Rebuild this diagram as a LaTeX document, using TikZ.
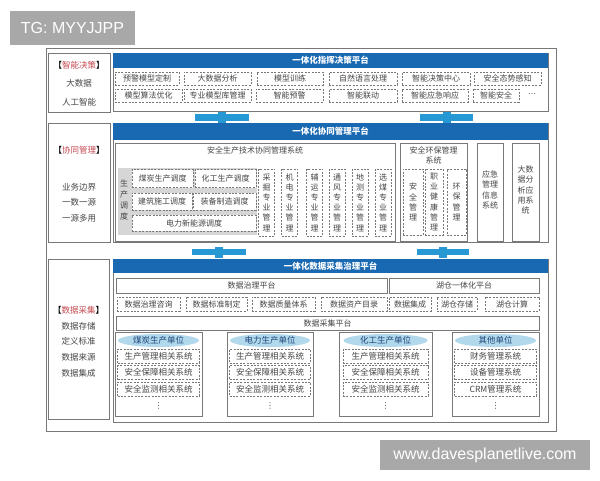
\documentclass[tikz,border=0pt]{standalone}
\usepackage{fontspec}
\setmainfont{Noto Sans CJK SC}
\newfontfamily\wmfont{Liberation Sans}
\newfontfamily\symfont{DejaVu Sans}
\usetikzlibrary{shapes.geometric}
\definecolor{hblue}{RGB}{24,104,178}
\definecolor{lblue}{RGB}{38,152,212}
\definecolor{ellblue}{RGB}{178,216,236}
\definecolor{framegray}{RGB}{120,120,120}
\definecolor{txtgray}{RGB}{70,70,70}
\definecolor{tagred}{RGB}{196,72,80}
\definecolor{areagray}{RGB}{214,214,214}
\definecolor{wmgray}{RGB}{168,168,168}
\definecolor{unittxt}{RGB}{28,70,120}
\newcommand\layertag[1]{{\color{black}【}{\color{tagred}#1}{\color{black}】}}
\begin{document}
\begin{tikzpicture}[x=1pt,y=-1pt,
    every node/.style={inner sep=0pt,text=txtgray,font=\fontsize{8}{10}\selectfont},
    box/.style={draw=framegray,line width=0.6pt},
    dbox/.style={draw=framegray,dashed,dash pattern=on 2pt off 1.4pt,line width=0.5pt},
    head/.style={fill=hblue,text=white,font=\fontsize{8.5}{10}\selectfont\bfseries},
    side/.style={font=\fontsize{8.5}{10}\selectfont},
    vert/.style={align=center,font=\fontsize{8}{10.2}\selectfont},
    unit/.style={ellipse,fill=ellblue,text=unittxt,minimum height=13,font=\fontsize{8.5}{10}\selectfont},
    utxt/.style={font=\fontsize{8.5}{10}\selectfont},
    dots/.style={font=\symfont\fontsize{8}{10}\selectfont},
    bar/.style={draw=lblue,line width=6.5pt},
    nub/.style={fill=lblue,minimum width=8,minimum height=11},
    wmbox/.style={fill=wmgray,text=white,font=\wmfont\fontsize{16}{18}\selectfont}]
  \useasboundingbox (0,0) rectangle (600,480);
  \fill[white] (0,0) rectangle (600,480);
  \draw[framegray,line width=0.6pt] (46,48) rectangle (556,431);

  \draw
    (79,82.5) node[box,minimum width=62,minimum height=59] (l1){}
    (330.5,82) node[box,minimum width=435,minimum height=58] (p1){}
    (330.5,60.5) node[head,minimum width=435,minimum height=15] (h1){一体化指挥决策平台}
    (79,65) node[side] (s11){\layertag{智能决策}}
    (79,83) node[side] (s12){大数据}
    (79,102) node[side] (s13){人工智能};
  \draw
    (147,78.5) node[dbox,minimum width=64,minimum height=13] (a1){预警模型定制}
    (217.5,78.5) node[dbox,minimum width=67,minimum height=13] (a2){大数据分析}
    (290,78.5) node[dbox,minimum width=66,minimum height=13] (a3){模型训练}
    (363,78.5) node[dbox,minimum width=68,minimum height=13] (a4){自然语言处理}
    (436,78.5) node[dbox,minimum width=68,minimum height=13] (a5){智能决策中心}
    (507.5,78.5) node[dbox,minimum width=67,minimum height=13] (a6){安全态势感知}
    (148.5,95.5) node[dbox,minimum width=67,minimum height=13] (b1){模型算法优化}
    (217.5,95.5) node[dbox,minimum width=67,minimum height=13] (b2){专业模型库管理}
    (289.5,95.5) node[dbox,minimum width=67,minimum height=13] (b3){智能预警}
    (363,95.5) node[dbox,minimum width=68,minimum height=13] (b4){智能联动}
    (435,95.5) node[dbox,minimum width=66,minimum height=13] (b5){智能应急响应}
    (496,95.5) node[dbox,minimum width=46,minimum height=13] (b6){智能安全}
    (532,95.5) node[dots] (b7){⋯};

  \draw
    (79,182.5) node[box,minimum width=62,minimum height=119] (l2){}
    (330.5,182.5) node[box,minimum width=435,minimum height=119] (p2){}
    (330.5,131.5) node[head,minimum width=435,minimum height=17] (h2){一体化协同管理平台}
    (79,150) node[side] (s21){\layertag{协同管理}}
    (79,187) node[side] (s22){业务边界}
    (79,202) node[side] (s23){一数一源}
    (79,218) node[side] (s24){一源多用};
  \draw
    (255,192) node[box,minimum width=280,minimum height=98] (m1){}
    (255,150) node (m1t){安全生产技术协同管理系统}
    (187.5,201.5) node[fill=areagray,minimum width=139,minimum height=67] (g1){}
    (124,200) node[vert,font=\fontsize{8}{11}\selectfont] (g1t){生\\产\\调\\度}
    (162.5,178.5) node[dbox,minimum width=61,minimum height=18,fill=white] (d1){煤炭生产调度}
    (225.5,178.5) node[dbox,minimum width=61,minimum height=18,fill=white] (d2){化工生产调度}
    (162,201.5) node[dbox,minimum width=60,minimum height=17,fill=white] (d3){建筑施工调度}
    (224.5,201.5) node[dbox,minimum width=63,minimum height=17,fill=white] (d4){装备制造调度}
    (194,223) node[dbox,minimum width=124,minimum height=16,fill=white] (d5){电力新能源调度};
  \draw
    (266.5,202.5) node[dbox,vert,minimum width=16,minimum height=67] (v1){采\\掘\\专\\业\\管\\理}
    (289.5,202.5) node[dbox,vert,minimum width=16,minimum height=67] (v2){机\\电\\专\\业\\管\\理}
    (314.5,202.5) node[dbox,vert,minimum width=16,minimum height=67] (v3){辅\\运\\专\\业\\管\\理}
    (337,202.5) node[dbox,vert,minimum width=16,minimum height=67] (v4){通\\风\\专\\业\\管\\理}
    (360,202.5) node[dbox,vert,minimum width=16,minimum height=67] (v5){地\\测\\专\\业\\管\\理}
    (383,202.5) node[dbox,vert,minimum width=16,minimum height=67] (v6){选\\煤\\专\\业\\管\\理};
  \draw
    (433.5,192) node[box,minimum width=67,minimum height=98] (m2){}
    (433.5,155) node[align=center] (m2t){安全环保管理\\系统}
    (413,202) node[dbox,vert,minimum width=20,minimum height=66] (e1){安\\全\\管\\理}
    (434,202) node[dbox,vert,minimum width=18,minimum height=66] (e2){职\\业\\健\\康\\管\\理}
    (456.5,202) node[dbox,vert,minimum width=19,minimum height=66] (e3){环\\保\\管\\理}
    (490,192) node[box,minimum width=26,minimum height=98] (m3){}
    (490,190) node[vert] (m3t){应急\\管理\\信息\\系统}
    (525.5,192) node[box,minimum width=27,minimum height=98] (m4){}
    (525.5,190) node[vert] (m4t){大数\\据分\\析应\\用系\\统};

  \draw
    (78.5,339) node[box,minimum width=61,minimum height=160] (l3){}
    (330.5,340.5) node[box,minimum width=435,minimum height=163] (p3){}
    (330.5,266) node[head,minimum width=435,minimum height=14] (h3){一体化数据采集治理平台}
    (78.5,310) node[side] (s31){\layertag{数据采集}}
    (78.5,326) node[side] (s32){数据存储}
    (78.5,341) node[side] (s33){定义标准}
    (78.5,357) node[side] (s34){数据来源}
    (78.5,373) node[side] (s35){数据集成};
  \draw
    (251.5,285.5) node[box,minimum width=271,minimum height=15] (k1){数据治理平台}
    (464,285.5) node[box,minimum width=150,minimum height=15] (k2){湖仓一体化平台}
    (148.5,304) node[dbox,minimum width=63,minimum height=14] (f1){数据治理咨询}
    (216.5,304) node[dbox,minimum width=61,minimum height=14] (f2){数据标准制定}
    (283.5,304) node[dbox,minimum width=63,minimum height=14] (f3){数据质量体系}
    (354,304) node[dbox,minimum width=66,minimum height=14] (f4){数据资产目录}
    (410,304) node[dbox,minimum width=42,minimum height=14] (f5){数据集成}
    (457,304) node[dbox,minimum width=40,minimum height=14] (f6){湖仓存储}
    (512,304) node[dbox,minimum width=54,minimum height=14] (f7){湖仓计算}
    (327.5,323) node[box,minimum width=423,minimum height=14] (k3){数据采集平台};
  \draw
    (158.5,374) node[box,minimum width=87,minimum height=84] (u1){}
    (158.5,340.5) node[unit,minimum width=81] (u1e){煤炭生产单位}
    (158.5,356) node[dbox,utxt,minimum width=82,minimum height=14] (u11){生产管理相关系统}
    (158.5,372.5) node[dbox,utxt,minimum width=82,minimum height=14] (u12){安全保障相关系统}
    (158.5,389) node[dbox,utxt,minimum width=82,minimum height=14] (u13){安全监测相关系统}
    (158.5,406) node[dots] (u14){⋮}
    (270,374) node[box,minimum width=86,minimum height=84] (u2){}
    (270,340.5) node[unit,minimum width=80] (u2e){电力生产单位}
    (270,356) node[dbox,utxt,minimum width=81,minimum height=14] (u21){生产管理相关系统}
    (270,372.5) node[dbox,utxt,minimum width=81,minimum height=14] (u22){安全保障相关系统}
    (270,389) node[dbox,utxt,minimum width=81,minimum height=14] (u23){安全监测相关系统}
    (270,406) node[dots] (u24){⋮}
    (385.5,374) node[box,minimum width=93,minimum height=84] (u3){}
    (385.5,340.5) node[unit,minimum width=84] (u3e){化工生产单位}
    (385.5,356) node[dbox,utxt,minimum width=85,minimum height=14] (u31){生产管理相关系统}
    (385.5,372.5) node[dbox,utxt,minimum width=85,minimum height=14] (u32){安全保障相关系统}
    (385.5,389) node[dbox,utxt,minimum width=85,minimum height=14] (u33){安全监测相关系统}
    (385.5,406) node[dots] (u34){⋮}
    (495.5,374) node[box,minimum width=87,minimum height=84] (u4){}
    (495.5,340.5) node[unit,minimum width=81] (u4e){其他单位}
    (495.5,356) node[dbox,utxt,minimum width=82,minimum height=14] (u41){财务管理系统}
    (495.5,372.5) node[dbox,utxt,minimum width=82,minimum height=14] (u42){设备管理系统}
    (495.5,389) node[dbox,utxt,minimum width=82,minimum height=14] (u43){CRM管理系统}
    (495.5,406) node[dots] (u44){⋮};

  \coordinate (c1a) at (195,117.5);
  \coordinate (c1b) at (249,117.5);
  \coordinate (c2a) at (420,117.5);
  \coordinate (c2b) at (473,117.5);
  \coordinate (c3a) at (192,252);
  \coordinate (c3b) at (246,252);
  \coordinate (c4a) at (417,252);
  \coordinate (c4b) at (469,252);
  \begin{scope}[bar]
    \draw (c1a) to (c1b);
    \draw (c2a) to (c2b);
    \draw (c3a) to (c3b);
    \draw (c4a) to (c4b);
  \end{scope}
  \node[nub] (n1) at (222,117.5){};
  \node[nub] (n2) at (446.5,117.5){};
  \node[nub] (n3) at (219,252){};
  \node[nub] (n4) at (443,252){};

  \node[wmbox,minimum width=125,minimum height=34] (wm1) at (72.5,28){TG: MYYJJPP};
  \node[wmbox,minimum width=210,minimum height=30] (wm2) at (485,455){www.davesplanetlive.com};
\end{tikzpicture}
\end{document}
